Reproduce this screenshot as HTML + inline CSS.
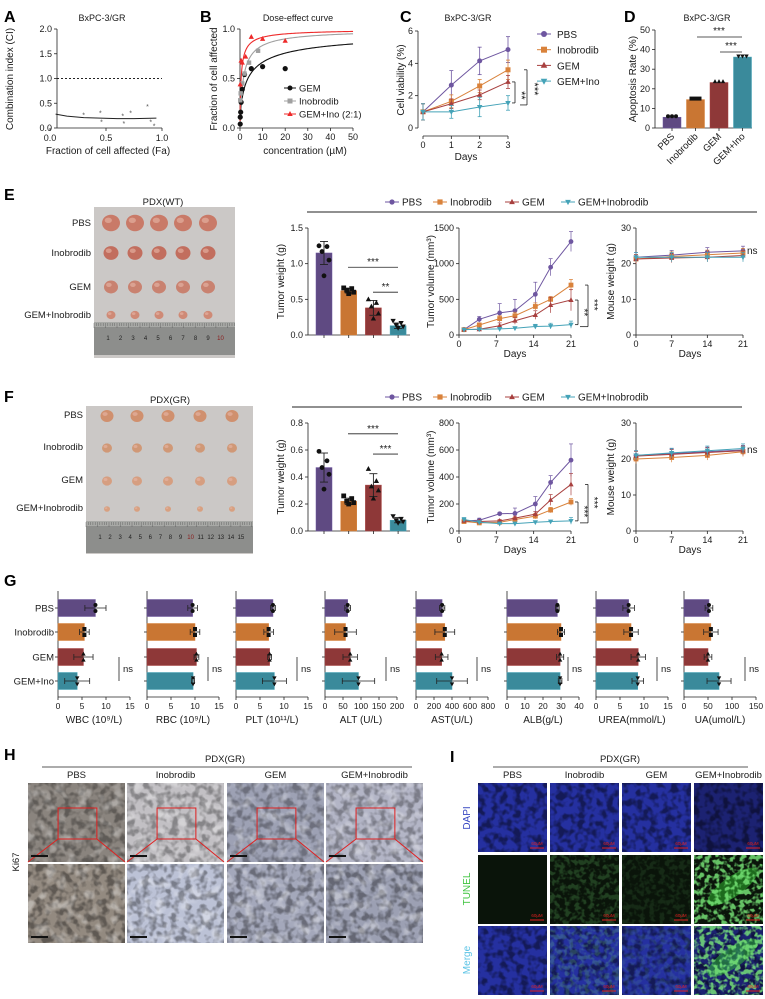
<!DOCTYPE html>
<html><head><meta charset="utf-8">
<style>
html,body{margin:0;padding:0;background:#fff;}
svg{display:block;font-family:"Liberation Sans",Arial,sans-serif;}
</style></head>
<body>
<svg id="fig" width="765" height="999" viewBox="0 0 765 999">
<defs>
 <filter id="speck" x="0" y="0" width="100%" height="100%"><feTurbulence type="fractalNoise" baseFrequency="0.14" numOctaves="2" seed="3"/><feColorMatrix type="matrix" values="0 0 0 0 0  0 0 0 0 0  0 0 0 0 0  4 0 0 0 -1.7"/></filter>
 <filter id="speck2" x="0" y="0" width="100%" height="100%"><feTurbulence type="fractalNoise" baseFrequency="0.09" numOctaves="2" seed="8"/><feColorMatrix type="matrix" values="0 0 0 0 1  0 0 0 0 1  0 0 0 0 1  4 0 0 0 -2.0"/></filter>
 <filter id="green" x="0" y="0" width="100%" height="100%"><feTurbulence type="fractalNoise" baseFrequency="0.2" numOctaves="2" seed="5"/><feColorMatrix type="matrix" values="0 0 0 0 0.2  0 0 0 0 0.85  0 0 0 0 0.2  5 0 0 0 -2.2"/></filter>
</defs>
</svg>
<script>
// ---------- data ----------
const groups = ['PBS','Inobrodib','GEM','GEM+Inobrodib'];
const aFa = [0.30,0.45,0.46,0.65,0.66,0.72,0.87,0.90,0.93];
const aCI = [0.27,0.31,0.13,0.25,0.10,0.31,0.44,0.13,0.05];
const aCurveFa = [0.05,0.15,0.3,0.45,0.6,0.75,0.95];
const aCurveCI = [0.28,0.24,0.21,0.20,0.19,0.19,0.20];
const bConcGEM = [0.1,0.1,0.3,0.5,1,2,5,10,20];
const bFaGEM = [0.04,0.11,0.16,0.26,0.39,0.54,0.60,0.62,0.60];
const bConcIno = [0.1,0.3,1,2,4,8];
const bFaIno = [0.28,0.35,0.45,0.55,0.66,0.78];
const bConcCombo = [0.1,0.5,1,2.5,5,10,20];
const bFaCombo = [0.44,0.68,0.66,0.72,0.92,0.90,0.88];
const bDm = [3.5,1.5,0.5];
const bSlope = [0.65,0.85,0.8];
const cDays = [0,1,2,3];
const cPBS = [1,2.65,4.15,4.85], cInob = [1,1.65,2.6,3.6], cGEM = [1,1.5,2.05,2.85], cCombo = [1,1.0,1.3,1.55];
const cErr = [[0.5,0.9,0.85,0.8],[0.5,0.4,0.4,0.6],[0.5,0.3,0.3,0.4],[0.5,0.4,0.6,0.45]];
const dRate = [5.5,14.5,23.2,36.2];
const dLabels = ['PBS','Inobrodib','GEM','GEM+Ino'];
const volDays = [0,3,7,10,14,17,21];
const eVol = [[75,220,310,340,570,950,1310],[75,140,230,270,400,500,700],[75,80,130,200,280,420,490],[75,80,85,95,120,125,145]];
const eVolErr = [[20,40,130,160,170,120,140],[20,30,40,50,50,40,80],[20,20,40,50,60,110,150],[10,15,20,20,30,40,50]];
const fVol = [[75,80,128,130,200,360,525],[70,60,65,85,110,155,215],[75,70,75,95,125,230,345],[85,65,55,55,65,70,75]];
const fVolErr = [[20,15,10,40,55,50,120],[15,10,10,15,20,20,25],[15,10,10,15,20,40,80],[15,10,10,10,10,10,25]];
const mwDays = [0,7,14,21];
const eMW = [[21.8,22.4,23.2,23.6],[21.3,22.0,22.5,23.0],[21.3,21.6,21.8,22.3],[21.8,21.8,21.8,21.8]];
const fMW = [[21.0,21.5,22.0,22.5],[20.0,20.4,21.0,22.0],[20.8,21.3,21.8,22.3],[21.0,21.7,22.3,22.9]];
const eWeight = [1.15,0.62,0.38,0.13];
const eWeightPts = [[1.25,1.24,1.17,1.05,0.83],[0.66,0.65,0.63,0.60,0.58],[0.50,0.45,0.40,0.30,0.23],[0.20,0.17,0.14,0.12,0.10]];
const fWeight = [0.47,0.22,0.34,0.08];
const fWeightPts = [[0.59,0.52,0.47,0.42,0.31],[0.26,0.24,0.22,0.21,0.20],[0.46,0.37,0.33,0.30,0.24],[0.11,0.09,0.08,0.07,0.06]];
const gNames = ['WBC (10⁹/L)','RBC (10⁹/L)','PLT (10¹¹/L)','ALT (U/L)','AST(U/L)','ALB(g/L)','UREA(mmol/L)','UA(umol/L)'];
const gMax = [15,15,15,200,800,40,15,150];
const gTicks = [[0,5,10,15],[0,5,10,15],[0,5,10,15],[0,50,100,150,200],[0,200,400,600,800],[0,10,20,30,40],[0,5,10,15],[0,50,100,150]];
const gVals = [[7.8,5.5,5.3,4.0],[9.5,10.0,10.3,9.6],[7.7,6.8,7.0,8.0],[63,57,70,93],[290,320,285,400],[28,30,29.5,29.5],[6.8,7.3,8.8,8.7],[52,56,50,73]];
const gSD = [[2.2,1.0,2.0,2.6],[1.0,1.0,0.5,0.3],[0.5,1.0,0.4,2.5],[8,30,20,45],[30,110,70,170],[1,2,2,1],[1.2,1.5,1.5,1.2],[8,15,8,25]];

// ---------- helpers ----------
const NS='http://www.w3.org/2000/svg';
const svg=document.getElementById('fig');
const COL=['#5f4a82','#c97633','#8e3838','#3a8a9b'];
const LCOL=['#6e56a0','#d9823b','#a8403f','#45a3b8'];
function mk(tag,attrs,parent){const el=document.createElementNS(NS,tag);for(const k in attrs)el.setAttribute(k,attrs[k]);(parent||svg).appendChild(el);return el;}
function nm(el,name){
  
  
  return el;}
function txt(x,y,s,o){o=o||{};const el=mk('text',{x:x,y:y,'font-size':o.size||9,'text-anchor':o.anchor||'middle',fill:o.fill||'#1a1a1a','font-weight':o.bold?'bold':'normal'},o.p);if(o.rot)el.setAttribute('transform','rotate('+o.rot+' '+x+' '+y+')');el.textContent=s;return el;}
function ln(x1,y1,x2,y2,o){o=o||{};const el=mk('line',{x1:x1,y1:y1,x2:x2,y2:y2,stroke:o.c||'#222','stroke-width':o.w||0.8},o.p);if(o.dash)el.setAttribute('stroke-dasharray',o.dash);return el;}
function sc(v,d0,d1,p0,p1){return p0+(v-d0)/(d1-d0)*(p1-p0);}
function marker(shape,x,y,r,fill,p){
  if(shape==0)return mk('circle',{cx:x,cy:y,r:r,fill:fill},p);
  if(shape==1)return mk('rect',{x:x-r,y:y-r,width:2*r,height:2*r,fill:fill},p);
  if(shape==2)return mk('polygon',{points:(x)+','+(y-r*1.2)+' '+(x-r*1.1)+','+(y+r*0.8)+' '+(x+r*1.1)+','+(y+r*0.8),fill:fill},p);
  return mk('polygon',{points:(x)+','+(y+r*1.2)+' '+(x-r*1.1)+','+(y-r*0.8)+' '+(x+r*1.1)+','+(y-r*0.8),fill:fill},p);}
function letter(x,y,s){const el=txt(x,y,s,{size:16,bold:true,anchor:'start',fill:'#000'});nm(el,'panel-label-'+s.toLowerCase());}
function yAxis(x,y0,y1,dmin,dmax,ticks,fmt,p){ln(x,y0,x,y1,{p:p});ticks.forEach(t=>{const y=sc(t,dmin,dmax,y0,y1);ln(x-3,y,x,y,{p:p});txt(x-5,y+3,fmt?fmt(t):String(t),{anchor:'end',size:9,p:p});});}
function xAxis(y,x0,x1,dmin,dmax,ticks,fmt,p){ln(x0,y,x1,y,{p:p});ticks.forEach(t=>{const x=sc(t,dmin,dmax,x0,x1);ln(x,y,x,y+3,{p:p});txt(x,y+12,fmt?fmt(t):String(t),{size:9,p:p});});}

// ---------- Panel A ----------
letter(4,22,'A');
{const g=mk('g',{});nm(g,'panel-a-ci-chart');
 const X=v=>sc(v,0,1,50,162),Y=v=>sc(v,0,2,128,29);
 txt(102,21,'BxPC-3/GR',{size:9,p:g});
 yAxis(57,128,29,0,2,[0,0.5,1,1.5,2],t=>t.toFixed(1),g);
 ln(57,128,162,128,{p:g});[0,0.5,1].forEach(t=>{ln(X(t),128,X(t),131,{p:g});txt(X(t),141,t.toFixed(1),{size:9,p:g});});
 const d=ln(57,Y(1),162,Y(1),{dash:'2,2',w:1,p:g});nm(d,'ci-reference-line');
 let pts=aCurveFa.map((f,i)=>X(f)+','+Y(aCurveCI[i])).join(' ');
 const c=mk('polyline',{points:pts,fill:'none',stroke:'#222','stroke-width':1},g);nm(c,'ci-curve');
 aFa.forEach((f,i)=>{const m=mk('text',{x:X(f),y:Y(aCI[i])+3,'font-size':7,'text-anchor':'middle',fill:'#555'},g);m.textContent='*';nm(m,'ci-point');});
 txt(13,79,'Combination index (CI)',{rot:-90,size:10,p:g});
 txt(108,154,'Fraction of cell affected (Fa)',{size:10,p:g});}

// ---------- Panel B ----------
letter(200,22,'B');
{const g=mk('g',{});nm(g,'panel-b-dose-effect');
 const X=v=>sc(v,0,50,240,353),Y=v=>sc(v,0,1,128,29);
 txt(298,21,'Dose-effect curve',{size:9,p:g});
 yAxis(240,128,29,0,1,[0,0.5,1],t=>t.toFixed(1),g);
 xAxis(128,240,353,0,50,[0,10,20,30,40,50],null,g);
 const cols=['#111','#a0a0a0','#ee2a2a'];
 [0,1,2].forEach(k=>{let p=[];for(let i=0;i<=120;i++){const x=0.02+i*i/14400*50;const f=Math.pow(x,bSlope[k])/(Math.pow(x,bSlope[k])+Math.pow(bDm[k],bSlope[k]));p.push(X(x)+','+Y(f));}
  const pl=mk('polyline',{points:p.join(' '),fill:'none',stroke:cols[k],'stroke-width':1.1},g);nm(pl,'dose-curve-'+k);});
 bConcGEM.forEach((c,i)=>{const m=marker(0,X(c),Y(bFaGEM[i]),2.6,'#111',g);nm(m,'gem-point');});
 bConcIno.forEach((c,i)=>{const m=marker(1,X(c),Y(bFaIno[i]),2.2,'#a0a0a0',g);nm(m,'inobrodib-point');});
 bConcCombo.forEach((c,i)=>{const m=marker(2,X(c),Y(bFaCombo[i]),2.4,'#ee2a2a',g);nm(m,'combo-point');});
 const lg=[['GEM','#111',0],['Inobrodib','#a0a0a0',1],['GEM+Ino (2:1)','#ee2a2a',2]];
 lg.forEach((e,i)=>{const y=88+i*13;ln(284,y,296,y,{c:e[1],w:1,p:g});marker(e[2],290,y,2.5,e[1],g);const t=txt(299,y+3.5,e[0],{anchor:'start',size:9.5,p:g});nm(t,'legend-entry');});
 txt(217,79,'Fraction of cell affected',{rot:-90,size:10,p:g});
 txt(305,154,'concentration (µM)',{size:10,p:g});}

// ---------- Panel C ----------
letter(400,22,'C');
{const g=mk('g',{});nm(g,'panel-c-cell-viability');
 const X=v=>sc(v,0,3,423,508),Y=v=>sc(v,0,6,128,31);
 txt(468,21,'BxPC-3/GR',{size:9,p:g});
 yAxis(418,128,31,0,6,[0,2,4,6],null,g);
 xAxis(136,423,508,0,3,[0,1,2,3],null,g);
 txt(466,160,'Days',{size:10,p:g});
 txt(404,80,'Cell viability (%)',{rot:-90,size:10,p:g});
 const S=[cPBS,cInob,cGEM,cCombo];
 S.forEach((s,k)=>{s.forEach((v,i)=>{const x=X(cDays[i]);ln(x,Y(v-cErr[k][i]),x,Y(v+cErr[k][i]),{c:LCOL[k],w:0.8,p:g});ln(x-2,Y(v+cErr[k][i]),x+2,Y(v+cErr[k][i]),{c:LCOL[k],w:0.8,p:g});ln(x-2,Y(v-cErr[k][i]),x+2,Y(v-cErr[k][i]),{c:LCOL[k],w:0.8,p:g});});
  const pl=mk('polyline',{points:s.map((v,i)=>X(cDays[i])+','+Y(v)).join(' '),fill:'none',stroke:LCOL[k],'stroke-width':1},g);nm(pl,'viability-line-'+k);
  s.forEach((v,i)=>{const m=marker(k,X(cDays[i]),Y(v),2.5,LCOL[k],g);nm(m,'viability-point');});});
 ln(512,Y(2.85),515,Y(2.85),{p:g});ln(515,Y(2.85),515,Y(1.55),{p:g});ln(512,Y(1.55),515,Y(1.55),{p:g});
 txt(518,Y(2.2)+3,'**',{size:11,p:g,rot:90});
 ln(524,Y(3.6),527,Y(3.6),{p:g});ln(527,Y(3.6),527,Y(1.55)+2,{p:g});ln(520,Y(1.55)+2,527,Y(1.55)+2,{p:g});
 txt(531,Y(2.6)+3,'***',{size:11,p:g,rot:90});
 const names=['PBS','Inobrodib','GEM','GEM+Ino'];
 names.forEach((n,k)=>{const y=34+k*15.7;ln(537,y,551,y,{c:LCOL[k],w:1,p:g});marker(k,544,y,3,LCOL[k],g);const t=txt(557,y+4,n,{anchor:'start',size:10,p:g});nm(t,'legend-entry');});}

// ---------- Panel D ----------
letter(624,22,'D');
{const g=mk('g',{});nm(g,'panel-d-apoptosis');
 const Y=v=>sc(v,0,50,128,30);
 txt(707,21,'BxPC-3/GR',{size:9,p:g});
 yAxis(655,128,30,0,50,[0,10,20,30,40,50],null,g);
 ln(655,128,752,128,{p:g});
 txt(636,79,'Apoptosis Rate (%)',{rot:-90,size:10,p:g});
 dRate.forEach((v,i)=>{const cx=672+i*23.5;const b=mk('rect',{x:cx-9,y:Y(v),width:18,height:128-Y(v),fill:COL[i],stroke:LCOL[i],'stroke-width':0.5},g);nm(b,'apoptosis-bar-'+i);
  ln(cx,128,cx,131,{p:g});
  [-4,0,4].forEach(dx=>marker(i,cx+dx,Y(v)-1,2,'#111',g));
  const t=txt(cx+3,137,dLabels[i],{anchor:'end',size:9.5,rot:-45,p:g});nm(t,'x-tick-label');});
 ln(697,37,742,37,{p:g});txt(719,34,'***',{size:10,p:g});
 ln(720,52,742,52,{p:g});txt(731,49,'***',{size:10,p:g});}

// ---------- Photos E/F ----------
function photo(x,y,w,h,cols,rows,rad,ruler,tumCol,nums,name){
 const g=mk('g',{});nm(g,name);
 mk('rect',{x:x,y:y,width:w,height:h,fill:'#d4d2d0'},g);
 mk('rect',{x:x,y:y,width:w,height:h,fill:'#b9b7b5',opacity:0.35},g);
 rows.forEach((ry,r)=>cols.forEach(cx=>{const e=mk('ellipse',{cx:cx,cy:ry,rx:rad[r],ry:rad[r]*0.92,fill:tumCol[r]},g);nm(e,'tumor');
  mk('ellipse',{cx:cx-rad[r]*0.3,cy:ry-rad[r]*0.3,rx:rad[r]*0.4,ry:rad[r]*0.3,fill:'#e8b8a8',opacity:0.6},g);}));
 const rl=mk('rect',{x:x,y:ruler[0],width:w,height:ruler[1]-ruler[0],fill:'#8d8e8c'},g);nm(rl,'ruler');
 mk('rect',{x:x,y:ruler[0],width:w,height:5,fill:'#a8a9a6'},g);
 for(let i=0;i<w;i+=2.3)ln(x+i,ruler[0]+1,x+i,ruler[0]+(i%11<2.3?6:4),{c:'#555',w:0.4,p:g});
 nums.forEach((n,i)=>txt(x+14+i*(w-16)/nums.length,ruler[0]+18,n,{size:6,fill:n=='10'?'#8a1a1a':'#222',p:g}));
}
letter(4,200,'E');
photo(94,207,141,151,[111,135,159,183,208],[223,253,287,315],[9,7.5,7,4.5],[322,355],['#c97a68','#c26e5e','#c98270','#cf8a76'],['1','2','3','4','5','6','7','8','9','10'],'photo-pdx-wt');
txt(163,205,'PDX(WT)',{size:9.5});
[['PBS',226],['Inobrodib',256],['GEM',290],['GEM+Inobrodib',318]].forEach(r=>{const t=txt(91,r[1],r[0],{anchor:'end',size:9.5});nm(t,'row-label');});
letter(4,402,'F');
photo(86,406,167,148,[107,137,168,200,232],[416,448,481,509],[6.5,5,5,3],[521,553],['#d0906e','#d09876','#d69e80','#d8a080'],['1','2','3','4','5','6','7','8','9','10','11','12','13','14','15'],'photo-pdx-gr');
txt(170,403,'PDX(GR)',{size:9.5});
[['PBS',418],['Inobrodib',450],['GEM',483],['GEM+Inobrodib',511]].forEach(r=>{const t=txt(83,r[1],r[0],{anchor:'end',size:9.5});nm(t,'row-label');});

// ---------- E/F charts ----------
function legendRow(y,x0,x1){ln(x0,y+10,x1,y+10,{w:1});
 const xs=[392,440,512,568];
 groups.forEach((n,k)=>{ln(xs[k]-7,y,xs[k]+7,y,{c:LCOL[k],w:1});marker(k,xs[k],y,2.6,LCOL[k]);const t=txt(xs[k]+10,y+3.5,n,{anchor:'start',size:10});nm(t,'legend-entry');});}
function weightChart(y0,y1,ymax,ticks,vals,pts,sig,name){
 const g=mk('g',{});nm(g,name);
 const Y=v=>sc(v,0,ymax,y0,y1);
 yAxis(308,y0,y1,0,ymax,ticks,t=>t.toFixed(1),g);ln(308,y0,410,y0,{p:g});
 txt(284,(y0+y1)/2,'Tumor weight (g)',{rot:-90,size:10,p:g});
 vals.forEach((v,i)=>{const cx=324+i*24.7;const b=mk('rect',{x:cx-8,y:Y(v),width:16,height:y0-Y(v),fill:COL[i],stroke:LCOL[i],'stroke-width':0.5},g);nm(b,'tumor-weight-bar-'+i);
  ln(cx,y0,cx,y0+3,{p:g});
  const mx=Math.max(...pts[i]),mn=Math.min(...pts[i]);const sd=(mx-mn)/2.6;
  ln(cx,Y(v-sd),cx,Y(v+sd),{p:g,w:0.9});ln(cx-4,Y(v+sd),cx+4,Y(v+sd),{p:g,w:0.9});ln(cx-4,Y(v-sd),cx+4,Y(v-sd),{p:g,w:0.9});
  pts[i].forEach((p,j)=>{const m=marker(i,cx+[-5,3,-2,5,0][j],Y(p),2.4,'#111',g);nm(m,'tumor-weight-point');});});
 sig.forEach(s=>{ln(s[0],Y(s[2]),398,Y(s[2]),{p:g});txt((s[0]+398)/2,Y(s[2])-2,s[1],{size:10,p:g});});}
function volChart(y0,y1,ymax,ticks,data,err,brk,name){
 const g=mk('g',{});nm(g,name);
 const X=v=>sc(v,0,21,464,571),Y=v=>sc(v,0,ymax,y0,y1);
 yAxis(459,y0,y1,0,ymax,ticks,null,g);xAxis(y0,459,571,0,21,[0,7,14,21],null,g);
 txt(515,y0+22,'Days',{size:10,p:g});
 txt(434,(y0+y1)/2,'Tumor volume (mm³)',{rot:-90,size:10,p:g});
 data.forEach((s,k)=>{s.forEach((v,i)=>{const x=X(volDays[i]);ln(x,Y(v-err[k][i]),x,Y(v+err[k][i]),{c:LCOL[k],w:0.7,p:g});ln(x-2,Y(v+err[k][i]),x+2,Y(v+err[k][i]),{c:LCOL[k],w:0.7,p:g});});
  const pl=mk('polyline',{points:s.map((v,i)=>X(volDays[i])+','+Y(v)).join(' '),fill:'none',stroke:LCOL[k],'stroke-width':1},g);nm(pl,'volume-line-'+k);
  s.forEach((v,i)=>{const m=marker(k,X(volDays[i]),Y(v),2.4,LCOL[k],g);nm(m,'volume-point');});});
 const last=data.map(s=>s[s.length-1]);
 ln(575,Y(last[brk[0]]),578,Y(last[brk[0]]),{p:g});ln(578,Y(last[brk[0]]),578,Y(last[3]),{p:g});ln(575,Y(last[3]),578,Y(last[3]),{p:g});
 txt(581,(Y(last[brk[0]])+Y(last[3]))/2,brk[1],{size:10,rot:90,p:g});
 ln(585,Y(last[brk[2]]),588,Y(last[brk[2]]),{p:g});ln(588,Y(last[brk[2]]),588,Y(last[3])+2,{p:g});ln(580,Y(last[3])+2,588,Y(last[3])+2,{p:g});
 txt(591,(Y(last[brk[2]])+Y(last[3]))/2,'***',{size:10,rot:90,p:g});}
function mwChart(y0,y1,data,name){
 const g=mk('g',{});nm(g,name);
 const X=v=>sc(v,0,21,636,743),Y=v=>sc(v,0,30,y0,y1);
 yAxis(636,y0,y1,0,30,[0,10,20,30],null,g);xAxis(y0,636,743,0,21,[0,7,14,21],null,g);
 txt(690,y0+22,'Days',{size:10,p:g});
 txt(614,(y0+y1)/2,'Mouse weight (g)',{rot:-90,size:10,p:g});
 data.forEach((s,k)=>{s.forEach((v,i)=>{const x=X(mwDays[i]);ln(x,Y(v-1.3),x,Y(v+1.3),{c:LCOL[k],w:0.7,p:g});ln(x-2,Y(v+1.3),x+2,Y(v+1.3),{c:LCOL[k],w:0.7,p:g});});
  const pl=mk('polyline',{points:s.map((v,i)=>X(mwDays[i])+','+Y(v)).join(' '),fill:'none',stroke:LCOL[k],'stroke-width':1},g);nm(pl,'mouse-weight-line-'+k);
  s.forEach((v,i)=>{const m=marker(k,X(mwDays[i]),Y(v),2.4,LCOL[k],g);nm(m,'mouse-weight-point');});});
 txt(747,Y(data[0][3])+3,'ns',{anchor:'start',size:10,p:g});}
legendRow(202,307,757);
weightChart(335,228,1.5,[0,0.5,1,1.5],eWeight,eWeightPts,[[348,'***',0.95],[373,'**',0.6]],'e-tumor-weight');
volChart(335,228,1500,[0,500,1000,1500],eVol,eVolErr,[2,'**',1],'e-tumor-volume');
mwChart(335,228,eMW,'e-mouse-weight');
legendRow(397,292,742);
weightChart(531,423,0.8,[0,0.2,0.4,0.6,0.8],fWeight,fWeightPts,[[348,'***',0.72],[373,'***',0.57]],'f-tumor-weight');
volChart(531,423,800,[0,200,400,600,800],fVol,fVolErr,[1,'***',2],'f-tumor-volume');
mwChart(531,423,fMW,'f-mouse-weight');

// ---------- Panel G ----------
letter(4,586,'G');
{const origins=[58,147,236,325,416,507,596,684];const W=72;const rows=[608,632,657,681];
 ['PBS','Inobrodib','GEM','GEM+Ino'].forEach((n,i)=>{const t=txt(54,rows[i]+3.5,n,{anchor:'end',size:9.5});nm(t,'row-label');});
 gVals.forEach((vals,m)=>{const g=mk('g',{});nm(g,'blood-panel-'+m);
  const o=origins[m],X=v=>sc(v,0,gMax[m],o,o+W);
  ln(o,591,o,697,{p:g});ln(o,697,o+W,697,{p:g});
  gTicks[m].forEach(t=>{ln(X(t),697,X(t),700,{p:g});txt(X(t),709,String(t),{size:8.5,p:g});});
  rows.forEach(r=>ln(o-3,r,o,r,{p:g}));
  vals.forEach((v,i)=>{const b=mk('rect',{x:o,y:rows[i]-8.5,width:X(v)-o,height:17,fill:COL[i],stroke:LCOL[i],'stroke-width':0.5},g);nm(b,'blood-bar');
   const sd=gSD[m][i];ln(X(v-sd),rows[i],X(v+sd),rows[i],{p:g});ln(X(v+sd),rows[i]-3,X(v+sd),rows[i]+3,{p:g});ln(X(v-sd),rows[i]-3,X(v-sd),rows[i]+3,{p:g});
   marker(i,X(v),rows[i]-3,2,'#111',g);marker(i,X(v),rows[i]+3,2,'#111',g);});
  ln(o+61,657,o+61,681,{p:g});txt(o+65,672,'ns',{anchor:'start',size:9.5,p:g});
  const t=txt(o+W/2,723,gNames[m],{size:10,p:g});nm(t,'x-axis-title');});}

// ---------- Panel H ----------
letter(4,760,'H');
txt(225,762,'PDX(GR)',{size:9.5});ln(42,767,412,767,{w:0.8});
{const cx=[28,127,227,326],cw=97;const top=['#8a847e','#c2c0c4','#9da1b4','#b3b5c6'],bot=['#938a80','#bcc2d6','#a4a8bb','#9ca0b3'];
 groups.forEach((n,i)=>{const t=txt(cx[i]+cw/2,778,n,{size:9.5});nm(t,'column-label');
  const x=cx[i];
  const a=mk('rect',{x:x,y:783,width:cw,height:79,fill:top[i]});nm(a,'ki67-overview-image');
  mk('rect',{x:x,y:783,width:cw,height:79,filter:'url(#speck)',opacity:0.3});
  mk('rect',{x:x,y:783,width:cw,height:79,filter:'url(#speck2)',opacity:0.3});
  const b=mk('rect',{x:x,y:864,width:cw,height:79,fill:bot[i]});nm(b,'ki67-zoom-image');
  mk('rect',{x:x,y:864,width:cw,height:79,filter:'url(#speck)',opacity:0.35});
  mk('rect',{x:x,y:864,width:cw,height:79,filter:'url(#speck2)',opacity:0.35});
  const rx=x+cw*0.31,rw=cw*0.4,ry=808,rh=31;
  const r=mk('rect',{x:rx,y:ry,width:rw,height:rh,fill:'none',stroke:'#e02020','stroke-width':1});nm(r,'zoom-region-box');
  ln(rx,ry+rh,x,862,{c:'#e02020',w:1});ln(rx+rw,ry+rh,x+cw,862,{c:'#e02020',w:1});
  ln(x+3,856,x+20,856,{c:'#111',w:2});ln(x+3,937,x+20,937,{c:'#111',w:2});});
 txt(19,862,'Ki67',{rot:-90,size:9.5});}

// ---------- Panel I ----------
txt(450,762,'I',{size:16,bold:true,anchor:'start',fill:'#000'});
txt(620,762,'PDX(GR)',{size:9.5});ln(493,767,748,767,{w:0.8});
{const cx=[478,550,622,694],cw=69,rows=[783,855,926],rh=69;
 groups.forEach((n,i)=>{const t=txt(cx[i]+cw/2,778,n,{size:9.5});nm(t,'column-label');
  rows.forEach((ry,r)=>{const x=cx[i];
   const base=r==1?'#0a140a':(i==3?'#1c2272':'#2530a0');
   const im=mk('rect',{x:x,y:ry,width:cw,height:rh,fill:base});nm(im,['dapi','tunel','merge'][r]+'-image');
   if(r!=1)mk('rect',{x:x,y:ry,width:cw,height:rh,filter:'url(#speck)',opacity:0.45});
   if(r>=1&&i>0){const op=i==3?0.8:(i==1?0.2:0.1);
    if(i==3){const gp=mk('g',{transform:'rotate(-35 '+(x+cw/2)+' '+(ry+rh/2)+')'});
      mk('ellipse',{cx:x+cw/2+5,cy:ry+rh/2,rx:30,ry:10,fill:'#2fbf2f',opacity:0.5},gp);}
    mk('rect',{x:x,y:ry,width:cw,height:rh,filter:'url(#green)',opacity:op});}
   ln(x+cw-17,ry+rh-4,x+cw-3,ry+rh-4,{c:'#e02020',w:1});
   txt(x+cw-10,ry+rh-7,'60μM',{size:4.5,fill:'#e02020'});});});
 txt(470,818,'DAPI',{rot:-90,size:10,fill:'#3444c0'});
 txt(470,889,'TUNEL',{rot:-90,size:10,fill:'#3fc43f'});
 txt(470,960,'Merge',{rot:-90,size:10,fill:'#5cc4e6'});}
</script>
</body></html>
